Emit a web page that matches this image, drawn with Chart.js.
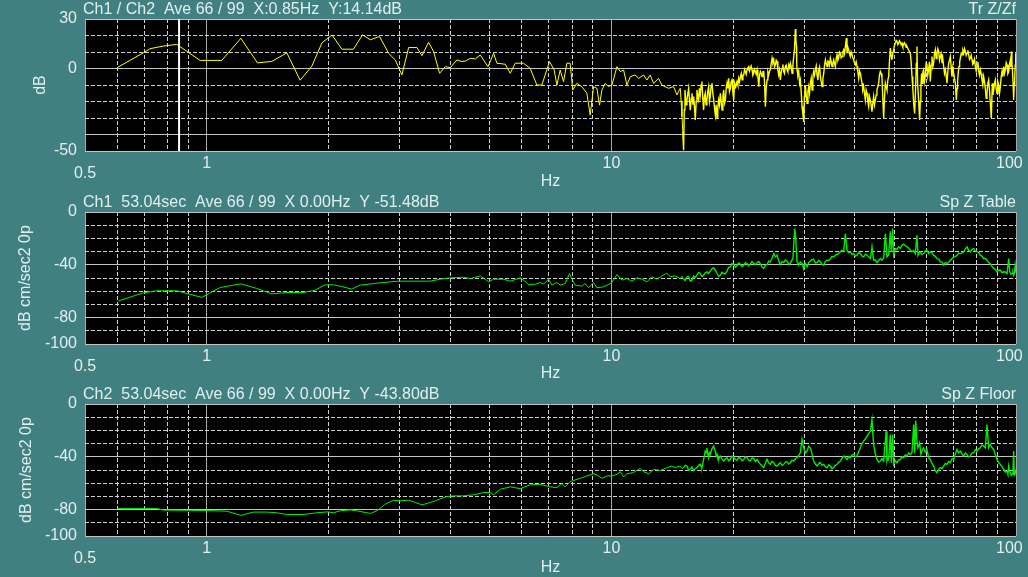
<!DOCTYPE html>
<html lang="en">
<head>
<meta charset="UTF-8">
<title>Tr Z/Zf - Sp Z Table - Sp Z Floor</title>
<script src="https://cdn.jsdelivr.net/npm/chart.js"></script>
<style>
    html, body {
        margin: 0;
        padding: 0;
        background: #408080;
        overflow: hidden;
    }
    body {
        width: 1028px;
        height: 577px;
        position: relative;
    }
    canvas {
        position: absolute;
        left: 0;
    }
</style>
</head>
<body>
<canvas id="trChart" width="1028" height="192" style="top:0"></canvas>
<canvas id="tableChart" width="1028" height="192" style="top:192px"></canvas>
<canvas id="floorChart" width="1028" height="193" style="top:384px"></canvas>

<script>
// x axis (Hz), log
const xGridHz = [0.5, 0.6, 0.7, 0.8, 0.9, 1, 2, 3, 4, 5, 6, 7, 8, 9, 10, 20, 30, 40, 50, 60, 70, 80, 90, 100];
const xLabelHz = [0.5, 1, 10, 100];
const xSolidHz = [0.5, 1, 10, 100];

// y axes (dB)
const trLabels = [30, 0, -50];
const trSolid = [30, 0, -40, -50];
const spLabels = [0, -40, -80, -100];
const spSolid = [0, -40, -80, -100];

const cursorHz = 0.854;

// Tr Z/Zf  [Hz, dB]
const trZZf = [
    [0.603,0.8],[0.697,9.5],[0.724,12.0],[0.781,13.6],[0.843,14.6],[0.963,4.9],[1.089,4.9],[1.214,18.3],
    [1.334,3.4],[1.448,4.3],[1.577,9.5],[1.701,-7.1],[1.818,1.4],[1.926,15.6],[2.04,20.3],[2.157,11.7],
    [2.304,11.7],[2.426,20.4],[2.535,17.4],[2.673,19.4],[2.814,9.2],[2.923,5.2],[3.035,-3.9],[3.154,12.7],
    [3.307,12.7],[3.402,7.8],[3.533,15.9],[3.635,10.3],[3.761,-2.9],[3.885,1.1],[3.996,0.5],[4.152,5.2],
    [4.272,4.2],[4.352,4.5],[4.479,6.2],[4.609,5.8],[4.741,8.2],[4.954,1.1],[5.115,9.2],[5.211,3.2],
    [5.465,2.6],[5.623,-2.9],[5.784,3.2],[6.065,3.2],[6.299,0.1],[6.543,-10],[6.732,-10],[7.032,4.2],
    [7.221,-0.9],[7.332,-10],[7.472,-0.9],[7.615,-8],[7.760,3.2],[7.907,3.2],[8.027,-13],[8.212,-9],
    [8.452,-11],[8.697,-15],[8.864,-28.3],[9.035,-11],[9.206,-12],[9.348,-22.2],[9.472,-13],[9.655,-9],
    [9.839,-11],[10.03,-10],[10.32,1.1],[10.52,-1.9],[10.72,-0.9],[10.92,-10],[11.13,-5],[11.45,-3.9],
    [11.67,-6],[12.01,-3.9],[12.24,-7],[12.47,-3.9],[12.71,-9],[13.08,-6],[13.33,-10],[13.57,-11],
    [13.84,-12],[14.25,-11],[14.52,-16],
    [14.80,-12.0],[14.87,-20.0],[14.94,-29.2],[15.01,-38.0],[15.08,-49.5],[15.14,-25.0],[15.20,-13.0],[15.29,-22.0],
    [15.37,-19.1],[15.45,-15.0],[15.52,-12.0],[15.60,-20.0],[15.67,-25.2],[15.75,-18.0],[15.82,-15.0],[15.90,-22.0],
    [15.97,-17.0],[16.05,-24.0],[16.12,-31.2],[16.20,-20.0],[16.27,-13.0],[16.35,-17.0],[16.43,-19.1],[16.50,-12.0],
    [16.58,-16.0],[16.66,-10.0],[16.74,-7.9],[16.82,-18.0],[16.90,-25.2],[16.98,-17.0],[17.06,-15.0],[17.14,-22.0],
    [17.22,-19.1],[17.30,-14.0],[17.39,-11.0],[17.47,-20.0],[17.55,-17.0],[17.63,-11.0],[17.72,-8.9],[17.81,-15.0],
    [17.90,-19.1],[17.98,-24.0],[18.07,-28.2],[18.15,-22.0],[18.24,-30.2],[18.32,-24.0],[18.41,-19.1],[18.50,-22.0],
    [18.59,-15.0],[18.68,-20.0],[18.77,-25.2],[18.86,-17.0],[18.95,-13.0],[19.04,-21.0],[19.13,-19.1],[19.22,-12.0],
    [19.31,-8.9],[19.40,-12.0],[19.49,-5.9],[19.58,-14.0],[19.68,-12.0],[19.77,-8.0],[19.87,-6.9],[19.96,-14.0],
    [20.06,-19.1],[20.12,-12.0],[20.17,-8.9],[20.30,-11.0],[20.44,-7.9],[20.54,-10.0],[20.64,-5.9],[20.74,-8.0],
    [20.84,-4.9],[20.94,-3.0],[21.04,-6.9],[21.14,-4.0],[21.24,-3.9],[21.34,-0.5],[21.44,-1.8],[21.54,-3.5],
    [21.64,-0.8],[21.74,0.5],[21.85,1.2],[21.95,-1.5],[22.05,0.2],[22.15,1.5],[22.26,-0.8],[22.37,-4.0],
    [22.48,-2.9],[22.58,-0.5],[22.69,-1.8],[22.80,-3.5],[22.91,-0.8],[23.02,-5.0],[23.13,-11.0],[23.24,-4.0],
    [23.35,-1.8],[23.46,-3.0],[23.57,-4.9],[23.68,-2.0],[23.79,-1.8],[23.90,-8.0],[24.02,-23.1],[24.13,-12.0],
    [24.25,-6.9],[24.36,-2.0],[24.48,-3.9],[24.60,-1.5],[24.71,-0.8],[24.83,3.0],[24.95,6.3],[25.07,3.5],
    [25.19,5.3],[25.31,1.0],[25.43,2.2],[25.55,5.0],[25.67,4.2],[25.79,-1.0],[25.91,-3.9],[26.03,-1.0],
    [26.16,-6.9],[26.28,-2.5],[26.41,0.2],[26.53,2.5],[26.66,-1.8],[26.78,-3.0],[26.91,1.2],[27.04,2.0],
    [27.17,-0.8],[27.30,-2.0],[27.43,2.2],[27.56,0.5],[27.69,3.2],[27.82,1.0],[27.96,-2.9],[28.09,2.0],
    [28.22,7.3],[28.35,12.0],[28.49,23.9],[28.57,18.0],[28.66,13.4],[28.71,4.0],[28.76,-0.8],[28.90,-4.0],
    [29.04,-1.8],[29.18,-9.0],[29.31,-6.9],[29.45,-14.0],[29.59,-23.1],[29.74,-28.0],[29.88,-32.3],[29.99,-17.0],
    [30.08,-14.0],[30.16,-10.0],[30.30,-16.0],[30.45,-21.1],[30.60,-14.0],[30.74,-11.0],[30.88,-15.0],[31.03,-8.9],
    [31.18,-6.0],[31.33,-13.0],[31.48,-5.0],[31.62,-1.8],[31.77,-4.0],[31.92,-0.8],[32.08,1.5],[32.23,-3.9],
    [32.39,-7.0],[32.54,-0.8],[32.70,1.0],[32.85,-4.9],[33.00,-8.0],[33.16,-11.0],[33.32,-6.0],[33.48,-2.9],
    [33.64,2.0],[33.80,5.3],[33.96,3.0],[34.12,1.2],[34.28,4.5],[34.44,4.2],[34.60,2.0],[34.77,6.3],
    [34.94,4.0],[35.10,1.2],[35.27,3.5],[35.44,5.3],[35.60,3.0],[35.77,1.2],[35.95,6.0],[36.12,8.3],
    [36.29,5.0],[36.46,6.3],[36.63,10.0],[36.81,9.3],[36.98,6.5],[37.16,7.3],[37.34,10.0],[37.51,11.3],
    [37.69,9.0],[37.87,13.4],[38.09,18.4],[38.22,9.3],[38.40,13.0],[38.59,11.3],[38.77,9.0],[38.95,7.3],
    [39.13,10.0],[39.32,8.3],[39.51,6.5],[39.70,5.3],[39.89,3.5],[40.08,2.2],[40.27,4.0],[40.46,1.2],
    [40.65,-2.0],[40.85,-5.9],[41.04,-1.5],[41.24,-2.9],[41.43,-6.0],[41.63,-8.9],[41.82,-13.0],[42.02,-11.0],
    [42.22,-15.0],[42.42,-19.1],[42.62,-13.0],[42.83,-15.0],[43.03,-20.0],[43.24,-23.1],[43.44,-17.0],[43.65,-19.1],
    [43.85,-22.0],[44.06,-26.2],[44.27,-21.0],[44.48,-17.0],[44.69,-22.0],[44.91,-19.1],[45.12,-16.0],[45.33,-13.0],
    [45.55,-11.0],[45.77,-8.9],[45.98,-4.0],[46.20,-1.8],[46.42,-3.0],[46.64,-5.9],[46.86,-18.0],[47.09,-30.2],
    [47.31,-18.0],[47.54,-8.9],[47.76,-11.0],[47.99,-13.0],[48.22,-7.0],[48.45,-4.9],[48.68,5.0],[48.91,12.4],
    [49.14,8.0],[49.37,5.3],[49.60,9.0],[49.84,11.3],[50.08,14.0],[50.32,15.4],[50.56,17.0],[50.80,16.4],
    [51.04,14.5],[51.28,15.4],[51.52,16.8],[51.77,15.8],[52.02,14.3],[52.27,15.4],[52.51,13.5],[52.76,14.4],
    [53.01,15.6],[53.27,14.4],[53.52,12.8],[53.77,13.4],[54.03,12.0],[54.29,11.3],[54.54,10.0],[54.80,9.3],
    [55.06,4.0],[55.33,-4.9],[55.59,-12.0],[55.85,-21.1],[56.17,-27.2],[56.49,-11.0],[56.70,3.0],[56.91,13.4],
    [57.13,-8.9],[57.45,-19.1],[57.78,-31.2],[58.00,-20.0],[58.21,-11.0],[58.43,-3.0],[58.65,-8.9],[58.87,-2.0],
    [59.10,-0.8],[59.38,-8.0],[59.66,-4.9],[59.94,3.0],[60.23,2.2],[60.52,-4.0],[60.81,-0.8],[61.11,4.0],
    [61.41,-7.9],[61.70,2.0],[61.99,7.3],[62.28,1.0],[62.58,3.2],[62.88,9.0],[63.18,11.3],[63.48,6.0],
    [63.78,9.3],[64.08,12.0],[64.39,10.3],[64.70,5.0],[65.01,7.3],[65.32,9.0],[65.63,3.2],[65.94,6.0],
    [66.26,1.2],[66.57,-3.0],[66.89,-0.8],[67.20,-4.0],[67.52,-8.9],[67.84,-2.0],[68.17,3.2],[68.50,5.0],
    [68.82,7.3],[69.14,1.0],[69.47,-4.9],[69.80,0.5],[70.14,-2.9],[70.47,-6.0],[70.81,-8.9],[71.21,-19.1],
    [71.48,-12.0],[71.75,-6.9],[72.02,-2.0],[72.30,1.2],[72.57,4.0],[72.85,6.3],[73.20,9.0],[73.55,8.3],
    [73.90,11.0],[74.25,9.3],[74.60,12.0],[74.96,10.3],[75.31,8.0],[75.67,9.3],[76.03,11.0],[76.40,8.3],
    [76.76,5.5],[77.13,6.3],[77.50,8.0],[77.86,5.3],[78.23,2.5],[78.61,3.2],[78.98,5.5],[79.36,1.2],
    [79.74,-1.5],[80.12,2.2],[80.50,4.0],[80.88,-1.8],[81.25,-4.0],[81.62,-0.8],[82.01,-3.0],[82.40,-6.9],
    [82.79,-10.0],[83.18,-4.9],[83.58,-8.0],[83.98,-12.0],[84.38,-18.0],[84.78,-15.0],[85.18,-9.0],[85.59,-6.9],
    [86.00,-13.0],[86.41,-21.1],[86.90,-30.2],[87.40,-8.9],[87.73,-16.0],[88.07,-13.0],[88.49,-9.0],[88.91,-6.9],
    [89.33,-12.0],[89.76,-15.0],[90.19,-8.0],[90.62,-10.0],[91.05,-15.0],[91.48,-11.0],[91.92,-5.0],[92.36,-1.8],
    [92.80,-5.0],[93.24,1.2],[93.68,-3.0],[94.13,-0.8],[94.58,3.5],[95.03,2.2],[95.48,-3.0],[95.94,-1.8],
    [96.40,3.0],[96.86,5.3],[97.13,1.0],[97.41,10.3],[97.69,4.0],[97.97,-0.8],[98.33,-8.0],[98.69,-19.1],
    [98.97,-10.0],[99.26,-6.9],[99.54,2.0],[99.82,9.3],[100,1.0]
];

// Sp Z Table  [Hz, dB cm/sec2 0p]
const spZTable = [
    [0.603,-67.5],[0.697,-61.2],[0.752,-59.7],[0.843,-59.7],[0.892,-61.7],[0.972,-64.7],[1.079,-57.2],[1.214,-54.4],
    [1.329,-57.9],[1.448,-62.0],[1.577,-61.0],[1.733,-61.0],[1.852,-59.2],[1.961,-55.2],[2.056,-55.2],[2.137,-56.2],
    [2.282,-58.4],[2.393,-55.4],[2.584,-54.2],[2.842,-52.9],[2.979,-52.4],[3.567,-52.4],[3.776,-50.9],[3.996,-49.9],
    [4.311,-49.4],[4.479,-50.4],[4.741,-48.4],[4.971,-52.9],[5.115,-50.9],[5.413,-50.9],[5.623,-52.4],[5.952,-49.9],
    [6.065,-51.6],[6.241,-54.9],[6.482,-54.7],[6.669,-53.4],[6.796,-54.7],[6.992,-50.9],[7.127,-55.4],[7.332,-53.4],
    [7.472,-55.4],[7.687,-54.2],[7.878,-46.6],[7.982,-50.4],[8.135,-55.4],[8.452,-56.2],[8.615,-54.2],[8.780,-57.4],
    [9.035,-53.4],[9.206,-57.4],[9.564,-56.7],[9.839,-54.9],[10.03,-53.4],[10.32,-47.4],[10.62,-51.6],[10.92,-50.4],
    [11.24,-52.4],[11.56,-49.9],[11.89,-50.9],[12.24,-52.9],[12.59,-49.1],[12.96,-50.9],[13.33,-48.4],[13.71,-46.3],
    [13.98,-49.1],[14.38,-48.4],
    [14.80,-50.4],[14.94,-48.6],[15.08,-50.9],[15.22,-51.8],[15.37,-49.1],[15.52,-49.0],[15.67,-52.4],[15.82,-51.5],
    [15.97,-48.4],[16.12,-49.6],[16.27,-47.9],[16.43,-45.8],[16.58,-46.6],[16.74,-48.8],[16.90,-47.9],[17.06,-46.0],
    [17.22,-45.3],[17.39,-46.5],[17.55,-44.8],[17.72,-43.0],[17.90,-42.3],[18.07,-44.1],[18.24,-46.6],[18.41,-48.7],
    [18.59,-47.9],[18.77,-45.7],[18.95,-46.6],[19.13,-46.9],[19.31,-44.8],[19.49,-42.0],[19.68,-41.6],[19.87,-39.0],
    [20.06,-39.8],[20.25,-41.8],[20.44,-40.8],[20.64,-38.6],[20.84,-39.8],[21.04,-41.5],[21.24,-40.3],[21.44,-38.4],
    [21.64,-39.0],[21.85,-40.6],[22.05,-39.3],[22.26,-37.6],[22.48,-38.8],[22.69,-40.0],[22.91,-38.3],[23.13,-37.5],
    [23.35,-39.3],[23.57,-41.8],[23.79,-42.8],[24.02,-40.4],[24.25,-39.8],[24.48,-37.2],[24.71,-37.8],[24.95,-35.1],
    [25.19,-31.5],[25.43,-34.0],[25.67,-32.7],[25.91,-37.0],[26.16,-39.8],[26.41,-37.6],[26.66,-38.3],[26.91,-36.4],
    [27.17,-37.3],[27.43,-39.6],[27.69,-39.0],[27.90,-36.6],[28.10,-35.3],[28.38,-12.6],[28.55,-20.2],[28.76,-37.8],
    [28.90,-38.6],[29.04,-40.3],[29.31,-38.0],[29.59,-39.0],[29.74,-41.3],[29.88,-42.8],[30.02,-40.5],[30.16,-39.0],
    [30.30,-40.0],[30.45,-41.6],[30.74,-38.2],[31.03,-37.3],[31.33,-36.0],[31.62,-35.8],[31.92,-38.6],[32.23,-38.3],
    [32.54,-36.6],[32.85,-37.8],[33.16,-39.6],[33.48,-40.3],[33.80,-37.4],[34.12,-36.5],[34.44,-36.7],[34.77,-35.3],
    [35.10,-33.6],[35.44,-34.0],[35.77,-32.6],[36.12,-32.2],[36.46,-31.4],[36.81,-30.2],[37.16,-29.1],[37.51,-29.7],
    [37.87,-16.4],[38.22,-29.0],[38.59,-30.8],[38.95,-30.2],[39.32,-31.9],[39.70,-31.5],[40.08,-33.6],[40.46,-32.7],
    [40.85,-30.6],[41.24,-31.5],[41.63,-33.4],[42.02,-34.0],[42.42,-32.1],[42.83,-32.7],[43.24,-34.0],[43.65,-35.3],
    [44.06,-26.4],[44.48,-36.5],[44.91,-36.4],[45.33,-38.3],[45.77,-36.8],[46.20,-35.3],[46.64,-36.6],[47.09,-34.8],
    [47.54,-16.4],[47.99,-34.0],[48.22,-33.2],[48.45,-32.7],[48.91,-14.6],[49.19,-30.2],[49.56,-12.6],[49.84,-32.7],
    [50.08,-30.4],[50.32,-27.7],[50.80,-28.4],[51.28,-26.4],[51.77,-27.6],[52.27,-25.2],[52.76,-24.3],[53.27,-25.6],
    [53.77,-26.3],[54.29,-27.2],[54.80,-28.8],[55.33,-30.2],[55.85,-29.2],[56.38,-31.5],[56.91,-17.6],[57.24,-32.7],
    [57.60,-30.8],[58.00,-30.2],[58.55,-32.2],[59.10,-31.5],[59.66,-29.4],[60.23,-29.0],[60.81,-31.5],[61.41,-30.2],
    [61.99,-30.8],[62.58,-32.7],[63.18,-33.6],[63.78,-35.3],[64.39,-35.6],[65.01,-37.8],[65.63,-38.0],[66.26,-40.3],
    [66.89,-38.2],[67.52,-39.0],[68.17,-38.2],[68.82,-36.5],[69.47,-35.2],[70.14,-34.0],[70.81,-33.8],[71.48,-32.7],
    [72.16,-31.1],[72.85,-31.5],[73.55,-31.0],[74.25,-30.2],[74.96,-28.0],[75.67,-26.4],[76.40,-29.0],[77.13,-30.2],
    [77.86,-28.2],[78.61,-27.7],[79.36,-29.6],[80.12,-30.2],[80.88,-30.8],[81.62,-32.7],[82.40,-33.4],[83.18,-35.3],
    [83.98,-35.0],[84.78,-36.5],[85.59,-38.4],[86.41,-39.0],[87.23,-41.2],[88.07,-42.8],[88.91,-43.4],[89.76,-45.3],
    [90.62,-44.0],[91.48,-44.1],[92.36,-46.0],[93.24,-45.3],[94.13,-45.4],[95.03,-46.6],[95.94,-35.3],[96.50,-45.3],
    [97.13,-47.2],[97.79,-46.6],[98.24,-45.8],[98.69,-47.9],[99.10,-46.4],[99.54,-40.3],[100,-46.0]
];

// Sp Z Floor  [Hz, dB cm/sec2 0p]
const spZFloor = [
    [0.603,-79.1],[0.752,-79.1],[0.781,-80.4],[0.811,-80.4],[1.0,-80.7],[1.121,-81.2],[1.214,-84.4],[1.304,-81.9],
    [1.407,-81.9],[1.489,-82.4],[1.577,-83.7],[1.733,-83.7],[1.871,-82.4],[1.998,-81.7],[2.056,-82.4],[2.137,-80.9],
    [2.262,-80.2],[2.393,-81.4],[2.535,-82.9],[2.633,-80.9],[2.761,-75.9],[2.896,-72.9],[3.007,-73.4],[3.154,-72.9],
    [3.275,-74.6],[3.402,-76.4],[3.567,-74.6],[3.705,-72.9],[3.885,-70.4],[4.074,-69.6],[4.311,-69.6],[4.565,-68.8],
    [4.832,-67.1],[5.019,-67.1],[5.115,-68.8],[5.311,-64.6],[5.623,-62.8],[5.952,-64.1],[6.299,-61.3],[6.669,-60.8],
    [7.059,-62.8],[7.332,-63.3],[7.544,-60.3],[7.687,-62.8],[7.908,-58.8],[8.373,-56.3],[8.697,-54.5],[9.035,-52.8],
    [9.206,-53.8],[9.472,-56.3],[9.746,-54.5],[10.03,-54.5],[10.32,-53.3],[10.52,-51.3],[10.72,-55.3],[10.92,-52.8],
    [11.34,-52.0],[11.78,-48.7],[12.01,-51.3],[12.36,-52.8],[12.71,-49.5],[13.21,-50.3],[13.71,-48.2],[14.11,-47.0],
    [14.38,-48.2],
    [14.80,-47.0],[14.94,-49.0],[15.08,-48.2],[15.22,-46.5],[15.37,-47.0],[15.52,-50.0],[15.67,-49.5],[15.82,-47.8],
    [15.97,-50.3],[16.12,-49.0],[16.27,-48.2],[16.43,-46.5],[16.58,-45.7],[16.66,-47.5],[16.74,-48.2],[16.90,-42.0],
    [17.06,-35.7],[17.14,-37.0],[17.22,-33.2],[17.30,-37.5],[17.39,-40.7],[17.47,-37.0],[17.55,-38.2],[17.72,-34.0],
    [17.90,-31.9],[17.98,-34.5],[18.07,-35.7],[18.15,-39.5],[18.24,-38.2],[18.32,-41.0],[18.41,-42.0],[18.50,-40.0],
    [18.59,-39.4],[18.77,-41.8],[18.95,-43.2],[19.13,-41.5],[19.31,-40.7],[19.49,-43.0],[19.68,-42.0],[19.87,-39.5],
    [20.06,-40.2],[20.25,-42.0],[20.44,-42.7],[20.64,-40.5],[20.84,-41.2],[21.04,-43.0],[21.24,-42.0],[21.44,-40.0],
    [21.64,-40.7],[21.85,-42.5],[22.05,-43.2],[22.26,-41.0],[22.48,-41.2],[22.69,-43.5],[22.91,-42.0],[23.13,-44.0],
    [23.35,-45.7],[23.57,-47.0],[23.79,-48.2],[24.02,-45.0],[24.25,-42.0],[24.48,-44.5],[24.71,-45.7],[24.95,-43.5],
    [25.19,-44.5],[25.43,-46.5],[25.67,-47.0],[25.91,-45.5],[26.16,-44.5],[26.41,-46.5],[26.66,-45.7],[26.91,-44.0],
    [27.17,-43.7],[27.43,-45.5],[27.69,-44.5],[27.96,-42.5],[28.22,-43.2],[28.49,-41.5],[28.76,-40.7],[29.04,-39.0],
    [29.31,-36.9],[29.59,-26.9],[29.74,-31.0],[29.88,-33.2],[30.16,-37.0],[30.45,-35.7],[30.74,-32.0],[31.03,-33.2],
    [31.33,-38.0],[31.62,-43.2],[31.92,-45.5],[32.23,-47.0],[32.54,-45.0],[32.85,-44.5],[33.16,-46.5],[33.48,-45.7],
    [33.80,-47.5],[34.12,-48.2],[34.44,-46.0],[34.77,-47.0],[35.10,-49.0],[35.44,-48.2],[35.77,-46.5],[36.12,-45.7],
    [36.46,-44.0],[36.81,-43.2],[37.16,-41.0],[37.51,-39.4],[37.87,-40.5],[38.22,-42.0],[38.59,-40.0],[38.95,-40.7],
    [39.32,-38.5],[39.70,-38.2],[40.08,-40.0],[40.46,-39.4],[40.85,-36.0],[41.24,-33.2],[41.63,-30.0],[42.02,-28.1],
    [42.42,-26.5],[42.83,-24.4],[43.24,-22.5],[43.65,-20.6],[44.06,-11.8],[44.27,-22.0],[44.48,-30.7],[44.91,-38.0],
    [45.33,-42.0],[45.77,-44.0],[46.20,-43.2],[46.64,-41.5],[47.09,-43.2],[47.76,-20.6],[47.99,-43.2],[48.22,-40.5],
    [48.45,-42.0],[48.91,-23.1],[49.19,-44.5],[49.56,-23.1],[49.84,-45.7],[50.32,-43.0],[50.80,-44.5],[51.28,-42.5],
    [51.77,-42.0],[52.27,-40.0],[52.76,-40.7],[53.27,-38.5],[53.77,-39.4],[54.29,-37.0],[54.80,-38.2],[55.33,-36.9],
    [55.85,-15.6],[56.17,-36.9],[56.49,-12.6],[56.91,-28.1],[57.24,-33.2],[57.78,-29.4],[58.21,-38.2],[58.65,-35.0],
    [59.10,-33.2],[59.66,-36.5],[60.23,-34.4],[60.81,-40.7],[61.41,-42.0],[61.99,-45.0],[62.58,-47.0],[63.18,-50.5],
    [63.78,-52.0],[64.39,-49.5],[65.01,-48.2],[65.63,-49.0],[66.26,-47.0],[66.89,-45.0],[67.52,-45.7],[68.17,-43.5],
    [68.82,-44.5],[69.47,-41.5],[70.14,-42.0],[70.81,-38.0],[71.48,-34.4],[72.16,-37.0],[72.85,-35.7],[73.55,-38.0],
    [74.25,-39.4],[74.96,-37.0],[75.67,-38.2],[76.40,-40.0],[77.13,-39.4],[77.86,-37.0],[78.61,-36.9],[79.36,-34.5],
    [80.12,-35.7],[80.88,-34.0],[81.62,-33.2],[82.40,-31.0],[83.18,-31.9],[83.98,-33.2],[84.78,-15.6],[85.59,-33.2],
    [86.00,-31.5],[86.41,-30.7],[87.23,-33.0],[88.07,-34.4],[88.91,-38.5],[89.76,-42.0],[90.62,-44.5],[91.48,-45.7],
    [92.36,-47.5],[93.24,-49.5],[94.13,-51.5],[95.03,-50.8],[95.48,-53.0],[95.94,-47.0],[96.40,-51.0],[96.86,-52.0],
    [97.32,-54.0],[97.79,-53.3],[98.24,-52.0],[98.69,-35.7],[98.97,-52.5],[99.26,-54.5],[99.54,-51.5],[99.82,-49.5],
    [100,-53.0]
];

const textColor = '#e2eeee';
const fontFamily = '"Liberation Sans", Arial, sans-serif';
const solidGrid = '#a8a8a8';
const dashGrid = '#cfcfcf';

// black plot area + caption line above it
const panelDecor = {
    id: 'panelDecor',
    beforeDraw(chart) {
        const { ctx, chartArea: a } = chart;
        ctx.save();
        ctx.fillStyle = '#000';
        ctx.fillRect(a.left, a.top, a.right - a.left, a.bottom - a.top);
        ctx.restore();
    },
    afterDraw(chart, args, opts) {
        const { ctx, chartArea: a } = chart;
        ctx.save();
        ctx.font = '16px ' + fontFamily;
        ctx.fillStyle = textColor;
        ctx.textBaseline = 'alphabetic';
        ctx.textAlign = 'left';
        ctx.fillText(opts.left, a.left - 2, a.top - 5);
        ctx.textAlign = 'right';
        ctx.fillText(opts.right, a.right, a.top - 5);
        ctx.restore();
    }
};

function makePanel(id, p) {
    const datasets = [];
    if (p.cursor) {
        datasets.push({
            data: [{ x: p.cursor, y: p.yMin }, { x: p.cursor, y: p.yMax }],
            borderColor: '#ffffff',
            borderWidth: 2
        });
    }
    datasets.push({
        data: p.series.map(d => ({ x: d[0], y: d[1] })),
        borderColor: p.color,
        borderWidth: 1,
        // the FFT bins crowd together at the top end, so the trace reads heavier there
        segment: { borderWidth: c => c.p0.parsed.x > 15 ? 1.4 : 1 }
    });

    return new Chart(document.getElementById(id), {
        type: 'line',
        data: { datasets },
        plugins: [panelDecor],
        options: {
            responsive: false,
            animation: false,
            events: [],
            layout: { padding: { top: p.top, left: 0, right: 12, bottom: 0 } },
            elements: { point: { radius: 0 }, line: { tension: 0 } },
            plugins: {
                legend: { display: false },
                tooltip: { enabled: false },
                panelDecor: { left: p.caption, right: p.name }
            },
            scales: {
                x: {
                    type: 'logarithmic',
                    min: 0.5,
                    max: 100,
                    afterBuildTicks: s => { s.ticks = xGridHz.map(v => ({ value: v })); },
                    afterFit: s => { s.height = p.xHeight; s.paddingLeft = 0; s.paddingRight = 0; },
                    ticks: {
                        autoSkip: false,
                        maxRotation: 0,
                        minRotation: 0,
                        padding: 3,
                        color: textColor,
                        font: c => (c.tick && c.tick.value === 0.5)
                            ? { family: fontFamily, size: 16, lineHeight: '13px' }
                            : { family: fontFamily, size: 16 },
                        callback: v => {
                            if (!xLabelHz.includes(v)) return '';
                            if (v === 0.5) return ['', '0.5'];
                            if (v === 100) return '100   ';
                            return String(v);
                        }
                    },
                    grid: {
                        drawTicks: false,
                        color: c => (c.tick && xSolidHz.includes(c.tick.value)) ? solidGrid : dashGrid
                    },
                    border: {
                        display: false,
                        dash: c => (c.type === 'tick' && !xSolidHz.includes(c.tick.value)) ? [4, 2] : []
                    },
                    title: {
                        display: true,
                        text: 'Hz',
                        color: textColor,
                        font: { family: fontFamily, size: 16 },
                        padding: { top: 0, bottom: p.hzPad }
                    }
                },
                y: {
                    min: p.yMin,
                    max: p.yMax,
                    afterFit: s => { s.width = 85; s.paddingTop = 0; s.paddingBottom = 0; },
                    ticks: {
                        stepSize: 10,
                        autoSkip: false,
                        padding: 8,
                        color: textColor,
                        font: { family: fontFamily, size: 16 },
                        callback: v => p.yLabels.includes(v) ? String(v) : ''
                    },
                    grid: {
                        drawTicks: false,
                        color: c => (c.tick && p.ySolid.includes(c.tick.value)) ? '#c4c4c4' : dashGrid
                    },
                    border: {
                        display: false,
                        dash: c => (c.type === 'tick' && !p.ySolid.includes(c.tick.value)) ? [4, 2] : []
                    },
                    title: {
                        display: true,
                        text: p.yTitle,
                        color: textColor,
                        font: { family: fontFamily, size: 16 },
                        padding: { top: p.yTitlePad, bottom: 0 }
                    }
                }
            }
        }
    });
}

makePanel('trChart', {
    caption: 'Ch1 / Ch2  Ave 66 / 99  X:0.85Hz  Y:14.14dB',
    name: 'Tr Z/Zf',
    series: trZZf, color: '#ffff00', cursor: cursorHz,
    yMin: -50, yMax: 30, yLabels: trLabels, ySolid: trSolid,
    yTitle: 'dB', yTitlePad: 31,
    top: 19, xHeight: 41, hzPad: 1
});

makePanel('tableChart', {
    caption: 'Ch1  53.04sec  Ave 66 / 99  X 0.00Hz  Y -51.48dB',
    name: 'Sp Z Table',
    series: spZTable, color: '#00ee00',
    yMin: -100, yMax: 0, yLabels: spLabels, ySolid: spSolid,
    yTitle: 'dB cm/sec2 0p', yTitlePad: 16,
    top: 20, xHeight: 40, hzPad: 1
});

makePanel('floorChart', {
    caption: 'Ch2  53.04sec  Ave 66 / 99  X 0.00Hz  Y -43.80dB',
    name: 'Sp Z Floor',
    series: spZFloor, color: '#00ee00',
    yMin: -100, yMax: 0, yLabels: spLabels, ySolid: spSolid,
    yTitle: 'dB cm/sec2 0p', yTitlePad: 17,
    top: 20, xHeight: 41, hzPad: 0
});
</script>
</body>
</html>
